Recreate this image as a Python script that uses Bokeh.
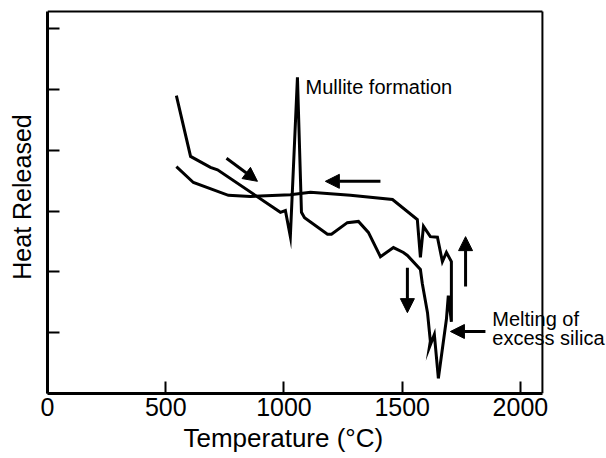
from bokeh.plotting import figure
from bokeh.models import Range1d, FixedTicker, Label, Arrow, NormalHead, Title
from bokeh.embed import file_html
from bokeh.resources import INLINE

# Heating curve (°C, relative heat released)
heat_T = [545, 605, 689, 719, 985, 1006, 1027, 1057, 1074, 1087, 1184, 1201,
          1268, 1315, 1357, 1408, 1463, 1505, 1522, 1577, 1585, 1607, 1619,
          1615, 1636, 1653]
heat_Q = [4.90, 3.90, 3.72, 3.68, 2.98, 3.01, 2.58, 5.20, 2.98, 2.89, 2.62, 2.62,
          2.81, 2.83, 2.65, 2.25, 2.40, 2.32, 2.27, 2.04, 1.81, 1.33, 0.86,
          0.76, 0.97, 0.25]

# Cooling curve
cool_T = [1653, 1687, 1695, 1708, 1708, 1687, 1670, 1649, 1619, 1590, 1577,
          1564, 1459, 1281, 1112, 1027, 858, 765, 617, 545]
cool_Q = [0.25, 1.22, 1.61, 1.18, 2.17, 2.32, 2.17, 2.57, 2.58, 2.75, 2.24,
          2.86, 3.19, 3.26, 3.31, 3.27, 3.24, 3.26, 3.47, 3.73]

x_ticks = [0, 500, 1000, 1500, 2000]
y_ticks = [1, 2, 3, 4, 5, 6]

# Plot box limits (data units) and visible range ends
X_BOX, Y_BOX = 2093, 6.283
X_END, Y_END = 2364, 6.464

# Direction arrows: (x_start, y_start, x_end, y_end)
arrows = [
    (757, 3.87, 888, 3.49),
    (1408, 3.49, 1175, 3.49),
    (1522, 2.07, 1522, 1.33),
    (1768, 1.76, 1768, 2.58),
    (1852, 1.02, 1704, 1.02),
]

FONT = "Liberation Sans"

p = figure(width=606, height=458, output_backend="svg", toolbar_location=None,
           x_range=Range1d(0, X_END), y_range=Range1d(0, Y_END),
           min_border_left=47, min_border_right=0, min_border_top=0,
           min_border_bottom=65)

# box: top and right edges
p.segment(x0=[0, X_BOX], y0=[Y_BOX, 0], x1=[X_BOX, X_BOX], y1=[Y_BOX, Y_BOX],
          line_color="black", line_width=2)

p.line(heat_T, heat_Q, line_color="black", line_width=3, line_join="miter")
p.line(cool_T, cool_Q, line_color="black", line_width=3, line_join="miter")

for (x0, y0, x1, y1) in arrows:
    p.add_layout(Arrow(end=NormalHead(size=14, fill_color="black", line_color="black", line_width=1),
                       x_start=x0, y_start=y0, x_end=x1, y_end=y1,
                       line_color="black", line_width=3))

p.add_layout(Label(x=1091, y=5.23, text="Mullite formation", text_font=FONT,
                   text_font_size="20px", text_baseline="top", text_color="black"))
p.add_layout(Label(x=1881, y=1.40, text="Melting of", text_font=FONT,
                   text_font_size="20px", text_baseline="top", text_color="black"))
p.add_layout(Label(x=1881, y=1.09, text="excess silica", text_font=FONT,
                   text_font_size="20px", text_baseline="top", text_color="black"))

p.xgrid.visible = False
p.ygrid.visible = False
p.outline_line_color = None
p.background_fill_color = "white"
p.border_fill_color = "white"

p.xaxis.ticker = FixedTicker(ticks=x_ticks)
p.yaxis.ticker = FixedTicker(ticks=y_ticks)
p.yaxis.major_label_overrides = {t: "" for t in y_ticks}
p.xaxis.bounds = (0, X_BOX)
p.yaxis.bounds = (0, Y_BOX)

for ax in (p.xaxis[0], p.yaxis[0]):
    ax.axis_line_color = "black"
    ax.axis_line_width = 3
    ax.major_tick_line_color = "black"
    ax.major_tick_line_width = 2
    ax.major_tick_in = 12
    ax.major_tick_out = 0
    ax.minor_tick_line_color = None
    ax.major_label_text_font = FONT
    ax.major_label_text_color = "black"
    ax.axis_label_text_font = FONT
    ax.axis_label_text_font_style = "normal"
    ax.axis_label_text_color = "black"

p.xaxis.major_label_text_font_size = "25px"
p.xaxis.major_label_standoff = 4
p.yaxis.axis_label = "Heat Released"
p.yaxis.axis_label_text_font_size = "25px"
p.yaxis.major_label_text_font_size = "1px"
p.yaxis.major_label_standoff = 0
p.yaxis.axis_label_standoff = 12

# x-axis title, placed under the axis, aligned with the plot box
p.add_layout(Title(text="Temperature (°C)", align="left", offset=136,
                   text_font=FONT, text_font_size="26px", text_font_style="normal",
                   text_color="black", standoff=4), "below")

open("out.html", "w").write(file_html(p, INLINE))
